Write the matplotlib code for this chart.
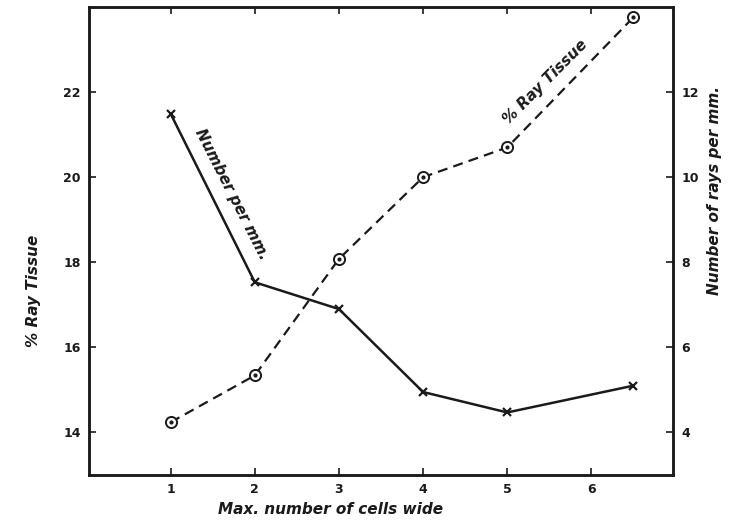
import numpy as np
import matplotlib
matplotlib.use("Agg")
import matplotlib.pyplot as plt

# ---- data ----
cells_wide = [1, 2, 3, 4, 5, 6.5]
ray_tissue_pct = [14.24, 15.34, 18.08, 20.0, 20.7, 23.76]   # left axis
rays_per_mm = [11.49, 7.53, 6.9, 4.95, 4.47, 5.1]           # right axis

x_ticks = [1, 2, 3, 4, 5, 6]
left_ticks = [14, 16, 18, 20, 22]
right_ticks = [4, 6, 8, 10, 12]

plt.rcParams["font.family"] = ["DejaVu Sans"]

fig = plt.figure(figsize=(7.31, 5.28), dpi=100)
ax = fig.add_axes([0.1218, 0.1004, 0.7989, 0.8863])
ax2 = ax.twinx()

ink = "#1a1a1a"

# % ray tissue: dashed, dotted circles
ax.plot(cells_wide, ray_tissue_pct, color=ink, lw=1.6, ls=(0, (4.5, 2.8)),
        marker="o", ms=8, mfc="white", mec=ink, mew=1.4, zorder=3)
ax.plot(cells_wide, ray_tissue_pct, ls="none", marker="o", ms=2,
        color=ink, zorder=4)

# number of rays per mm: solid, crosses
ax2.plot(cells_wide, rays_per_mm, color=ink, lw=1.8,
         marker="x", ms=6, mew=1.6, zorder=3)

ax.set_xlim(0.03, 6.97)
ax.set_ylim(13.0, 24.0)
ax2.set_ylim(3.0, 14.0)

ax.set_xticks(x_ticks)
ax.set_yticks(left_ticks)
ax2.set_yticks(right_ticks)

tick_font = dict(fontsize=9, fontweight="bold")
ax.set_xticklabels([str(v) for v in x_ticks], **tick_font)
ax.set_yticklabels([str(v) for v in left_ticks], **tick_font)
ax2.set_yticklabels([str(v) for v in right_ticks], **tick_font)

ax.tick_params(axis="both", direction="in", length=5, width=1.2,
               colors=ink, pad=6, top=True)
ax2.tick_params(axis="y", direction="in", length=5, width=1.2,
                colors=ink, pad=6)

for a in (ax, ax2):
    for s in a.spines.values():
        s.set_linewidth(1.8)
        s.set_color(ink)

label_font = dict(fontsize=11, fontweight="bold", style="italic", color=ink)
fig.text(0.046, 0.45, "% Ray Tissue", rotation=90, ha="center", va="center",
         **label_font)
fig.text(0.978, 0.64, "Number of rays per mm.", rotation=90, ha="center",
         va="center", **label_font)
fig.text(0.452, 0.035, "Max. number of cells wide", ha="center", va="center",
         **label_font)

# labels drawn along the curves
ax2.text(1.72, 9.6, "Number per mm.", rotation=-63, ha="center", va="center",
         **label_font)
ax.text(5.45, 22.25, "% Ray Tissue", rotation=45, ha="center", va="center",
        **label_font)

fig.savefig("out.png", dpi=100, facecolor="white")
